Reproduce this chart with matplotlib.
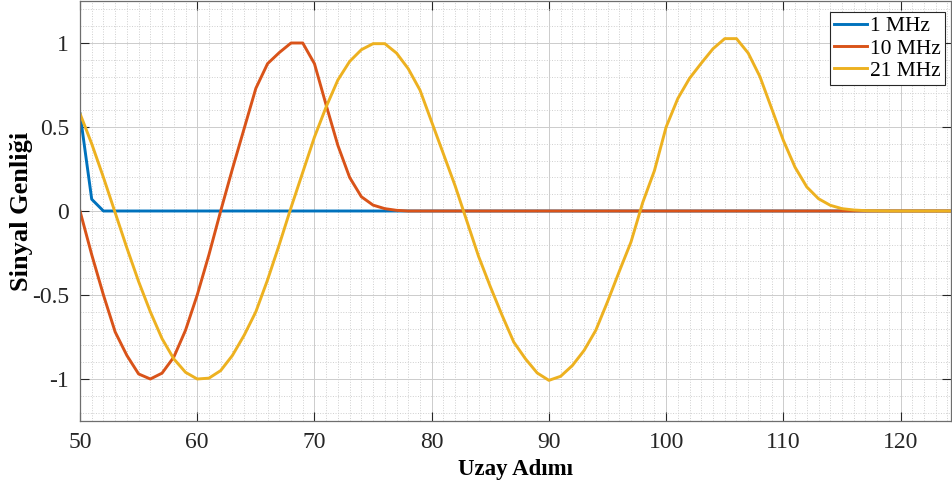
import numpy as np
import matplotlib
matplotlib.use('Agg')
import matplotlib.pyplot as plt
from matplotlib.ticker import MultipleLocator

plt.rcParams['font.family'] = ['Liberation Serif', 'DejaVu Serif']
plt.rcParams['axes.unicode_minus'] = False

# spatial steps
x = np.arange(50, 126)

# 1 MHz
s1 = [0.58, 0.07] + [0.0] * 74

# 10 MHz
s10 = [0.0, -0.26, -0.5, -0.72, -0.86, -0.97, -1.0, -0.965, -0.87, -0.71,
       -0.5, -0.26, 0.0, 0.25, 0.49, 0.73, 0.877, 0.943, 1.0, 1.0,
       0.877, 0.63, 0.39, 0.2, 0.085, 0.035, 0.014, 0.004, 0.0] + [0.0] * 47

# 21 MHz
s21 = [0.58, 0.4, 0.2, -0.01, -0.22, -0.42, -0.6, -0.76, -0.88, -0.96,
       -1.0, -0.995, -0.95, -0.86, -0.74, -0.6, -0.41, -0.2, 0.02, 0.23,
       0.44, 0.62, 0.78, 0.89, 0.96, 0.996, 0.996, 0.94, 0.847, 0.72,
       0.53, 0.34, 0.15, -0.06, -0.27, -0.45, -0.62, -0.78, -0.88, -0.964,
       -1.008, -0.984, -0.92, -0.83, -0.71, -0.54, -0.36, -0.185, 0.05, 0.24,
       0.5, 0.67, 0.79, 0.88, 0.966, 1.026, 1.026, 0.94, 0.8, 0.61,
       0.42, 0.26, 0.143, 0.073, 0.034, 0.014, 0.006, 0.002, 0.001] + [0.0] * 7

labels = ['1 MHz', '10 MHz', '21 MHz']
colors = ['#0072BD', '#D95319', '#EDB120']

fig = plt.figure(figsize=(9.52, 4.88), dpi=100)
ax = fig.add_axes([80/952, 67/488, 871/952, 420/488])

for s, lab, c in zip([s1, s10, s21], labels, colors):
    ax.plot(x, s, color=c, linewidth=2.1, label=lab)

ax.set_xlim(50, 124.3)
ax.set_ylim(-1.25, 1.25)
ax.set_xticks([50, 60, 70, 80, 90, 100, 110, 120])
ax.set_yticks([-1, -0.5, 0, 0.5, 1])
ax.set_yticklabels(['-1', '-0.5', '0', '0.5', '1'])
ax.xaxis.set_minor_locator(MultipleLocator(1))
ax.yaxis.set_minor_locator(MultipleLocator(0.1))

ax.grid(True, which='major', color='#cccccc', linewidth=0.7)
ax.grid(True, which='minor', color='#cfcfcf', linewidth=0.7, linestyle=':')
ax.set_axisbelow(True)

ax.tick_params(which='major', direction='in', length=6.5, width=0.8,
               top=True, right=True, labelsize=17, colors='#262626', pad=8)
ax.tick_params(which='minor', length=0, top=True, right=True)
for sp in ax.spines.values():
    sp.set_color('#6e6e6e')
    sp.set_linewidth(0.9)

ax.set_xlabel('Uzay Adımı', fontsize=16.5, fontweight='bold', labelpad=4)
ax.set_ylabel('Sinyal Genliği', fontsize=19, fontweight='bold')
ax.yaxis.set_label_coords(-0.054, 0.5)

leg = ax.legend(loc='upper right', bbox_to_anchor=(945/952, 1 - 12/488),
                bbox_transform=fig.transFigure, borderaxespad=0,
                fontsize=15.5, handlelength=1.5, handletextpad=0.15,
                labelspacing=0.1, borderpad=0.2, fancybox=False,
                framealpha=1, edgecolor='#262626')
leg.get_frame().set_linewidth(0.8)

fig.savefig('out.png', dpi=100)
